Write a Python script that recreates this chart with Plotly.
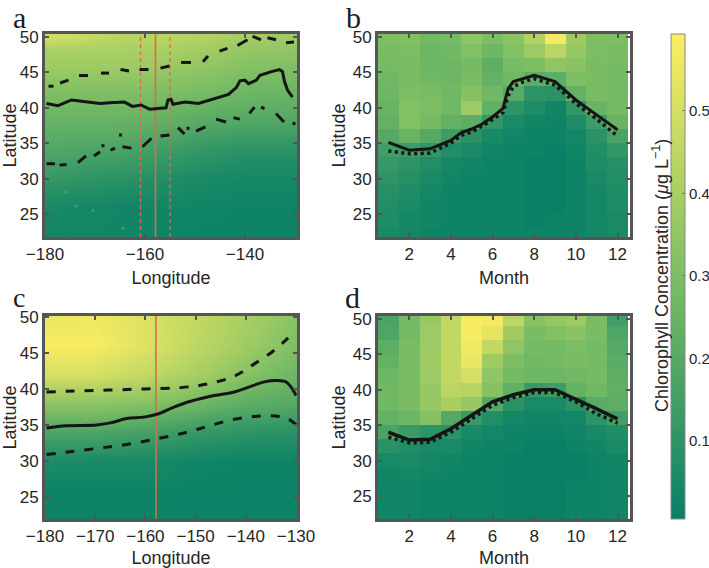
import plotly.graph_objects as go

W, H = 709, 568
LATS_A = [22, 26, 30, 34, 38, 42, 46, 48, 50]
LATS_C = [22, 26, 30, 34, 38, 42, 46, 50]
LATS_MONTH = [22, 24, 26, 28, 30, 32, 34, 36, 38, 40, 42, 44, 46, 48, 50]
MONTHS = list(range(1, 13))
LON_A = [-180, -172, -164, -156, -148, -140, -130]
LON_C = [-180, -170, -160, -150, -140, -130]

# rows follow LATS_A / LATS_C
Z_A = [
    [.03, .03, .03, .02, .02, .02, .02],
    [.05, .04, .03, .03, .025, .02, .02],
    [.12, .10, .09, .07, .05, .04, .04],
    [.19, .18, .17, .14, .11, .09, .09],
    [.24, .24, .24, .23, .20, .19, .19],
    [.30, .30, .30, .29, .28, .26, .25],
    [.38, .38, .38, .37, .35, .32, .31],
    [.40, .40, .40, .40, .38, .35, .34],
    [.50, .47, .43, .44, .42, .39, .37],
]
Z_C = [
    [.02, .02, .02, .015, .015, .015],
    [.02, .02, .02, .015, .015, .015],
    [.06, .05, .05, .03, .02, .02],
    [.18, .18, .16, .12, .10, .09],
    [.34, .34, .32, .27, .22, .20],
    [.50, .50, .46, .40, .32, .26],
    [.58, .58, .52, .45, .38, .30],
    [.55, .56, .52, .46, .40, .33],
]
# each row is one month, values follow LATS_MONTH
Z_B = [
    [.05, .06, .07, .08, .10, .12, .15, .20, .24, .25, .26, .27, .28, .29, .30],
    [.04, .04, .05, .06, .08, .10, .14, .25, .31, .31, .30, .29, .29, .30, .31],
    [.02, .03, .03, .04, .05, .07, .11, .20, .28, .30, .29, .27, .26, .26, .27],
    [.02, .02, .02, .02, .03, .04, .07, .14, .24, .27, .27, .26, .26, .27, .28],
    [.02, .02, .02, .02, .02, .03, .05, .09, .22, .37, .32, .29, .28, .31, .34],
    [.02, .02, .02, .02, .02, .02, .03, .05, .11, .23, .27, .24, .22, .26, .30],
    [.02, .02, .02, .02, .02, .02, .02, .03, .05, .10, .21, .27, .29, .31, .33],
    [.02, .01, .01, .01, .01, .01, .02, .02, .03, .06, .10, .22, .30, .37, .42],
    [.02, .02, .01, .01, .01, .01, .01, .02, .02, .03, .09, .22, .34, .44, .57],
    [.02, .02, .02, .02, .02, .02, .03, .04, .06, .11, .24, .30, .33, .36, .38],
    [.04, .04, .04, .04, .05, .06, .07, .09, .14, .25, .29, .29, .29, .30, .30],
    [.05, .05, .06, .06, .07, .08, .11, .17, .25, .28, .28, .28, .28, .29, .30],
]
Z_D = [
    [.03, .03, .03, .03, .05, .09, .17, .24, .27, .27, .26, .24, .22, .18, .17],
    [.03, .03, .03, .04, .05, .07, .13, .26, .29, .29, .29, .29, .29, .28, .28],
    [.02, .02, .02, .03, .04, .05, .10, .32, .36, .36, .37, .38, .37, .37, .36],
    [.02, .02, .02, .02, .03, .05, .09, .20, .40, .44, .46, .46, .46, .46, .46],
    [.02, .02, .02, .02, .02, .03, .05, .13, .36, .43, .50, .55, .57, .58, .58],
    [.02, .02, .02, .02, .02, .02, .04, .07, .20, .32, .34, .38, .46, .54, .57],
    [.01, .01, .01, .01, .01, .02, .02, .04, .09, .23, .28, .30, .34, .38, .45],
    [.01, .01, .01, .01, .01, .01, .02, .03, .05, .13, .26, .27, .28, .29, .32],
    [.01, .01, .01, .01, .01, .01, .02, .03, .05, .14, .26, .28, .28, .31, .35],
    [.02, .02, .02, .01, .01, .02, .03, .04, .09, .24, .27, .29, .30, .33, .37],
    [.02, .02, .02, .02, .02, .03, .05, .10, .21, .27, .28, .28, .28, .29, .29],
    [.03, .03, .03, .03, .03, .05, .07, .15, .22, .23, .22, .21, .20, .18, .15],
]

A_SOLID_LON = [-179.7, -177.4, -174.7, -172.4, -169.0, -167.0, -164.1, -162.5, -160.8, -159.1, -156.5, -155.8, -155.4, -154.8, -154.4, -152.0, -149.3, -146.0, -143.3, -141.7, -141.0, -140.0, -139.3, -137.7, -137.0, -134.7, -133.1, -132.5, -132.1, -131.5, -130.5]
A_SOLID_LAT = [40.6, 40.3, 41.1, 40.9, 40.6, 40.7, 40.8, 40.2, 40.4, 39.8, 39.9, 40.0, 41.1, 41.2, 40.5, 40.8, 40.6, 41.3, 41.9, 42.9, 43.8, 43.9, 43.4, 43.9, 44.6, 45.1, 45.4, 45.1, 43.7, 42.5, 41.5]
# None separates the individual dashes as they appear in the contour
A_UP_LON = [-179.3, -178.3, None, -177.0, -175.3, None, -173.2, -171.4, None, -168.8, -167.2, None, -164.9, -163.2, None, -161.1, -159.3, None, -156.9, -155.1, None, -152.8, -150.8, None, -148.4, -147.4, None, -145.1, -143.5, None, -141.5, -139.5, None, -138.5, -136.8, None, -135.5, -133.8, None, -131.8, -130.2]
A_UP_LAT = [43.05, 43.05, None, 43.5, 43.9, None, 44.55, 44.55, None, 44.9, 44.9, None, 45.4, 45.2, None, 45.4, 45.4, None, 45.6, 45.9, None, 46.4, 46.4, None, 46.5, 47.3, None, 48.0, 48.4, None, 48.8, 49.6, None, 50.1, 49.6, None, 49.9, 49.6, None, 49.2, 49.3]
A_LOW_LON = [-179.7, -178.0, None, -177.1, -175.7, None, -173.4, -171.8, None, -170.2, -169.0, None, -168.7, -168.1, None, -166.9, -166.0, None, -165.2, -164.6, None, -164.5, -162.7, None, -160.5, -158.7, None, -156.9, -155.1, None, -153.4, -152.1, None, -151.7, -151.1, None, -149.8, -147.9, None, -145.8, -143.8, None, -142.3, -141.0, None, -139.1, -138.1, None, -136.8, -136.1, None, -133.8, -132.2, None, -130.2, -130.2]
A_LOW_LAT = [32.1, 32.1, None, 31.9, 32.0, None, 32.25, 33.2, None, 33.2, 33.8, None, 34.65, 34.65, None, 34.0, 34.3, None, 36.15, 36.15, None, 34.5, 34.3, None, 34.5, 35.7, None, 36.0, 36.15, None, 37.2, 36.3, None, 37.1, 37.1, None, 36.7, 37.3, None, 38.4, 38.0, None, 38.6, 38.4, None, 39.2, 40.1, None, 40.1, 39.9, None, 39.2, 38.0, None, 38.0, 37.55]
A_SPECK_LON = [-173.8, -170.4, -175.8, -164.4]
A_SPECK_LAT = [26.1, 25.5, 28.1, 23.0]

C_SOLID_LON = [-179.7, -175.7, -169.7, -167, -163.7, -160.3, -157.7, -154.3, -151, -146.3, -142.3, -139.7, -136.3, -133.7, -132, -130.7, -130]
C_SOLID_LAT = [34.6, 34.9, 35.0, 35.3, 35.9, 36.1, 36.5, 37.5, 38.3, 39.1, 39.6, 40.2, 41.0, 41.2, 41.0, 40.0, 39.1]
C_UP_LON = [-179.7, -170.3, -161, -153, -147.7, -142.3, -138.3, -134.3, -130.7]
C_UP_LAT = [39.6, 39.8, 40.0, 40.2, 40.7, 41.8, 43.5, 45.4, 47.7]
C_LOW_LON = [-179.7, -170.3, -163.7, -157.7, -152.3, -147.7, -143, -138.3, -134.3, -131.7, -130]
C_LOW_LAT = [30.9, 31.7, 32.3, 33.1, 33.9, 34.8, 35.7, 36.2, 36.25, 35.9, 35.05]

B_MONTH = [1, 2, 3, 4, 4.5, 5, 5.5, 6, 6.5, 6.75, 7, 7.5, 8, 9, 10, 11, 12]
B_SOLID = [35.1, 34.0, 34.2, 35.4, 36.5, 37.0, 37.7, 38.7, 39.9, 42.7, 43.7, 44.1, 44.6, 43.7, 41.1, 39.0, 36.9]
B_DOTTED = [33.9, 33.5, 33.6, 35.0, 36.1, 36.6, 37.4, 38.3, 39.3, 41.7, 43.0, 43.7, 44.1, 43.2, 40.6, 38.4, 36.0]
D_SOLID = [34.0, 32.9, 33.0, 34.5, 36.4, 38.3, 39.3, 40.0, 40.0, 38.7, 37.3, 35.9]
D_DOTTED = [33.3, 32.5, 32.6, 34.0, 35.9, 37.8, 38.9, 39.6, 39.6, 38.3, 36.6, 35.3]

LON_CENTER = -157.9
LON_LEFT = -160.9
LON_RIGHT = -155.0
LAT_SPAN = [21.75, 50.42]
LAT_SPAN_C = [21.95, 50.15]

TICKS_LAT = [25, 30, 35, 40, 45, 50]
TICKS_A = [-180, -160, -140]
TICKS_C = [-180, -170, -160, -150, -140, -130]
TICKS_MONTH = [2, 4, 6, 8, 10, 12]
TICKS_CBAR = [0.1, 0.2, 0.3, 0.4, 0.5]
CBAR_RANGE = [0.0055, 0.593]
COLORS = [[0, "rgb(8,128,102)"], [0.5, "rgb(125,190,100)"], [1, "rgb(252,238,98)"]]

FONT = "Liberation Sans, Arial, sans-serif"
TXT = "#262626"
FRAME = "#555555"
RED = "#dc6a50"

fig = go.Figure()

PANELS = {
    "a": (1, (45, 297), (34, 237), [-180, -129.6], TICKS_A, LAT_SPAN),
    "b": (2, (378, 630), (34, 237), [0.5, 12.6], TICKS_MONTH, LAT_SPAN),
    "c": (3, (45, 297), (316, 519), [-180, -129.8], TICKS_C, LAT_SPAN_C),
    "d": (4, (378, 630), (316, 519), [0.5, 12.6], TICKS_MONTH, LAT_SPAN),
}
XTITLES = {"a": "Longitude", "b": "Month", "c": "Longitude", "d": "Month"}

layout = {}
for key, (n, xp, yp, xr, xt, yr) in PANELS.items():
    s = "" if n == 1 else str(n)
    layout["xaxis" + s] = dict(
        domain=[xp[0] / W, xp[1] / W], range=xr, anchor="y" + s, tickvals=xt,
        ticks="inside", ticklen=4, tickcolor=FRAME, tickwidth=2, mirror="allticks",
        showline=True, linecolor=FRAME, linewidth=3, showgrid=False, zeroline=False,
        tickfont=dict(family=FONT, size=17, color=TXT),
        title=dict(text=XTITLES[key], font=dict(family=FONT, size=18, color=TXT), standoff=8),
    )
    layout["yaxis" + s] = dict(
        domain=[1 - yp[1] / H, 1 - yp[0] / H], range=yr, anchor="x" + s, tickvals=TICKS_LAT,
        ticks="inside", ticklen=4, tickcolor=FRAME, tickwidth=2, mirror="allticks",
        showline=True, linecolor=FRAME, linewidth=3, showgrid=False, zeroline=False,
        tickfont=dict(family=FONT, size=17, color=TXT),
        title=dict(text="Latitude", font=dict(family=FONT, size=18, color=TXT), standoff=3),
    )


def heat(x, y, z, n, smooth, transpose=False):
    s = "" if n == 1 else str(n)
    fig.add_trace(go.Heatmap(x=x, y=y, z=z, coloraxis="coloraxis", xaxis="x" + s, yaxis="y" + s,
                             zsmooth=smooth, transpose=transpose, hoverinfo="skip"))


def line(x, y, n, color="#151515", width=3, dash="solid", shape="linear"):
    s = "" if n == 1 else str(n)
    fig.add_trace(go.Scatter(x=x, y=y, mode="lines", xaxis="x" + s, yaxis="y" + s, showlegend=False,
                             line=dict(color=color, width=width, dash=dash, shape=shape),
                             connectgaps=False, hoverinfo="skip"))


heat(LON_A, LATS_A, Z_A, 1, "best")
heat(MONTHS, LATS_MONTH, Z_B, 2, False, True)
heat(LON_C, LATS_C, Z_C, 3, "best")
heat(MONTHS, LATS_MONTH, Z_D, 4, False, True)

fig.add_trace(go.Scatter(x=A_SPECK_LON, y=A_SPECK_LAT, mode="markers", xaxis="x", yaxis="y", showlegend=False,
                         marker=dict(size=3, color="rgb(80,170,100)", opacity=0.7), hoverinfo="skip"))

line([LON_CENTER, LON_CENTER], LAT_SPAN, 1, RED, 1.6)
line([LON_LEFT, LON_LEFT], LAT_SPAN, 1, RED, 1.3, "4px,3px")
line([LON_RIGHT, LON_RIGHT], LAT_SPAN, 1, RED, 1.3, "4px,3px")
line([LON_CENTER, LON_CENTER], LAT_SPAN_C, 3, RED, 1.6)

line(A_SOLID_LON, A_SOLID_LAT, 1)
line(A_UP_LON, A_UP_LAT, 1)
line(A_LOW_LON, A_LOW_LAT, 1)
line(C_SOLID_LON, C_SOLID_LAT, 3, shape="spline")
line(C_UP_LON, C_UP_LAT, 3, dash="9px,10px", shape="spline")
line(C_LOW_LON, C_LOW_LAT, 3, dash="9px,10px", shape="spline")
line(B_MONTH, B_SOLID, 2)
line(B_MONTH, B_DOTTED, 2, width=3.5, dash="3px,3.5px")
line(MONTHS, D_SOLID, 4, width=3.5)
line(MONTHS, D_DOTTED, 4, width=3.5, dash="3px,3.5px")

annotations = [
    dict(text=t, x=x / W, y=1 - y / H, xref="paper", yref="paper", showarrow=False,
         xanchor="center", yanchor="middle",
         font=dict(family="Liberation Serif, DejaVu Serif, serif", size=s, color="#1c1c1c"))
    for t, x, y, s in [("a", 19, 18, 30), ("b", 353, 18, 30), ("c", 19, 297, 28), ("d", 352, 297, 30)]
]
annotations.append(dict(
    text="Chlorophyll Concentration (<i>μ</i>g L<sup>−1</sup>)", x=660 / W, y=1 - 276 / H,
    xref="paper", yref="paper", showarrow=False, textangle=-90, xanchor="center", yanchor="middle",
    font=dict(family=FONT, size=18, color=TXT)))

fig.update_layout(
    width=W, height=H, autosize=False, margin=dict(l=0, r=0, t=0, b=0, autoexpand=False),
    paper_bgcolor="white", plot_bgcolor="white", showlegend=False,
    annotations=annotations,
    coloraxis=dict(
        cmin=CBAR_RANGE[0], cmax=CBAR_RANGE[1], colorscale=COLORS,
        colorbar=dict(
            x=671 / W, xanchor="left", y=1 - 519 / H, yanchor="bottom",
            lenmode="fraction", len=485 / H, thickness=14, thicknessmode="pixels",
            tickvals=TICKS_CBAR, ticktext=[str(v) for v in TICKS_CBAR],
            ticks="inside", ticklen=3, tickcolor="#777777",
            outlinecolor="#888888", outlinewidth=1, xpad=0, ypad=0,
            tickfont=dict(family=FONT, size=15, color=TXT),
        ),
    ),
    **layout,
)
fig.write_html("out.html", config={"displayModeBar": False},
               post_script="document.body.style.margin='0';document.documentElement.style.overflow='hidden';")
